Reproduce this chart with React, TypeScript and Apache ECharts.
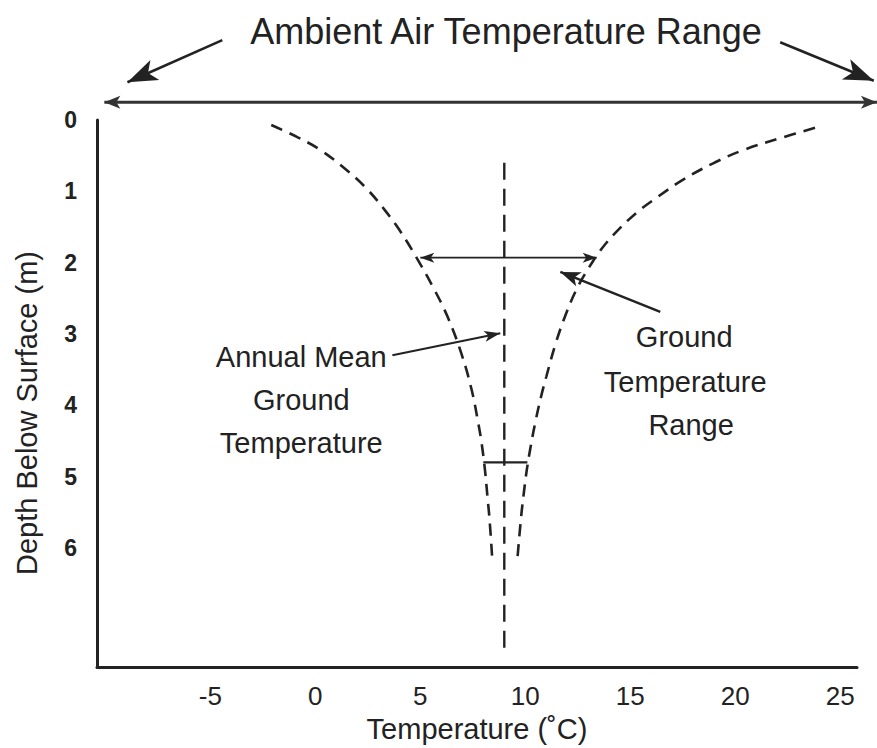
import React, { useEffect, useRef } from 'react';
import * as echarts from 'echarts';

// Tick labels
const xTickValues = [-5, 0, 5, 10, 15, 20, 25];
const yTickValues = [0, 1, 2, 3, 4, 5, 6];

// Axis extents (temperature °C, depth m)
const tempMin = -10.4;
const tempMax = 25.8;
const depthMax = 7.67;

// Cold-season envelope [temperature, depth]
const coldEnvelope: [number, number][] = [
  [-2.1, 0.07], [-0.86, 0.24], [0.24, 0.42], [1.6, 0.73], [2.5, 0.98],
  [3.3, 1.26], [4.0, 1.54], [4.8, 1.92], [5.6, 2.34], [6.3, 2.76],
  [6.95, 3.27], [7.45, 3.79], [7.76, 4.25], [7.92, 4.53], [8.08, 4.91],
  [8.2, 5.29], [8.3, 5.61], [8.43, 6.17],
];

// Warm-season envelope [temperature, depth]
const warmEnvelope: [number, number][] = [
  [23.8, 0.11], [22.3, 0.24], [20.4, 0.42], [19.0, 0.6], [17.5, 0.84],
  [16.3, 1.08], [15.3, 1.3], [14.3, 1.58], [13.6, 1.82], [13.05, 2.06],
  [12.5, 2.34], [11.95, 2.71], [11.45, 3.13], [11.0, 3.6], [10.75, 3.88],
  [10.47, 4.25], [10.25, 4.59], [10.07, 4.91], [9.93, 5.23], [9.8, 5.57],
  [9.62, 6.17],
];

// Annual mean ground temperature line
const meanGroundTemp = 9;
const meanLineDepths = [0.6, 7.43];

// Small range bar near 4.8 m
const deepBar: [number, number][] = [[8.0, 4.8], [10.1, 4.8]];

// Annotation arrows [from, to] in data coordinates
const airRangeArrow: [number, number][] = [[-10.05, -0.25], [26.75, -0.25]];
const titleArrowLeft: [number, number][] = [[-4.43, -1.12], [-8.95, -0.53]];
const titleArrowRight: [number, number][] = [[22.14, -1.09], [26.6, -0.55]];
const groundRangeArrow: [number, number][] = [[5.0, 1.93], [13.4, 1.93]];
const meanPointer: [number, number][] = [[3.67, 3.3], [8.81, 2.99]];
const rangePointer: [number, number][] = [[16.43, 2.69], [11.67, 2.13]];

// Annotation texts anchored in data coordinates
const leftNote = ['Annual Mean', 'Ground', 'Temperature'];
const leftNoteAnchor: [number, number][] = [[-0.67, 3.32], [-0.67, 3.93], [-0.67, 4.53]];
const rightNote = ['Ground', 'Temperature', 'Range'];
const rightNoteAnchor: [number, number][] = [[17.57, 3.04], [17.62, 3.67], [17.9, 4.28]];

const FONT = '"Liberation Sans", Arial, Helvetica, sans-serif';
const INK = '#222';

export default function App() {
  const ref = useRef<HTMLDivElement>(null);

  useEffect(() => {
    const chart = echarts.init(ref.current!, null, { renderer: 'svg' });
    const option: any = {
      animation: false,
      backgroundColor: '#fff',
      grid: { left: 97, right: 20, top: 120, bottom: 81 },
      xAxis: {
        type: 'value',
        position: 'bottom',
        min: tempMin,
        max: tempMax,
        axisLine: { show: true, onZero: false, lineStyle: { color: INK, width: 3 } },
        axisTick: { show: false },
        splitLine: { show: false },
        axisLabel: {
          customValues: xTickValues,
          formatter: (v: number) => String(v),
          margin: 16,
          fontSize: 26,
          fontFamily: FONT,
          color: INK,
        },
      },
      yAxis: {
        type: 'value',
        position: 'left',
        inverse: true,
        min: 0,
        max: depthMax,
        axisLine: { show: true, onZero: false, lineStyle: { color: INK, width: 3 } },
        axisTick: { show: false },
        splitLine: { show: false },
        axisLabel: {
          customValues: yTickValues,
          formatter: (v: number) => String(v),
          margin: 20,
          fontSize: 23,
          fontWeight: 'bold',
          fontFamily: FONT,
          color: INK,
        },
      },
      series: [
        {
          type: 'line',
          data: coldEnvelope,
          smooth: 0.4,
          symbol: 'none',
          clip: false,
          lineStyle: { color: INK, width: 2.6, type: [12, 8] },
        },
        {
          type: 'line',
          data: warmEnvelope,
          smooth: 0.4,
          symbol: 'none',
          clip: false,
          lineStyle: { color: INK, width: 2.6, type: [12, 8] },
        },
        {
          type: 'line',
          data: meanLineDepths.map((d) => [meanGroundTemp, d]),
          symbol: 'none',
          lineStyle: { color: INK, width: 2.4, type: [17, 9] },
        },
        {
          type: 'line',
          data: deepBar,
          symbol: 'none',
          lineStyle: { color: INK, width: 2.2 },
        },
      ],
    };
    chart.setOption(option);

    const px = (p: [number, number]) => chart.convertToPixel({ gridIndex: 0 }, p) as number[];

    const elements: any[] = [];
    const arrow = (
      seg: [number, number][],
      opts: { start?: boolean; end?: boolean; len: number; wid: number; lw: number; color?: string }
    ) => {
      const a = px(seg[0]);
      const b = px(seg[1]);
      const color = opts.color || INK;
      const dx = b[0] - a[0];
      const dy = b[1] - a[1];
      const L = Math.hypot(dx, dy);
      const ux = dx / L;
      const uy = dy / L;
      const nx = -uy;
      const ny = ux;
      elements.push({
        type: 'line',
        shape: { x1: a[0], y1: a[1], x2: b[0], y2: b[1] },
        style: { stroke: color, lineWidth: opts.lw },
        silent: true,
      });
      const head = (tip: number[], dirx: number, diry: number) => {
        const bx = tip[0] - dirx * opts.len;
        const by = tip[1] - diry * opts.len;
        elements.push({
          type: 'polygon',
          shape: {
            points: [
              [tip[0], tip[1]],
              [bx + nx * opts.wid / 2, by + ny * opts.wid / 2],
              [tip[0] - dirx * opts.len * 0.75, tip[1] - diry * opts.len * 0.75],
              [bx - nx * opts.wid / 2, by - ny * opts.wid / 2],
            ],
          },
          style: { fill: color },
          silent: true,
        });
      };
      if (opts.end) head(b, ux, uy);
      if (opts.start) head(a, -ux, -uy);
    };

    arrow(airRangeArrow, { start: true, end: true, len: 16, wid: 13, lw: 3, color: '#333' });
    arrow(titleArrowLeft, { end: true, len: 30, wid: 22, lw: 2.6 });
    arrow(titleArrowRight, { end: true, len: 30, wid: 22, lw: 2.6 });
    arrow(groundRangeArrow, { start: true, end: true, len: 14, wid: 10, lw: 1.8 });
    arrow(meanPointer, { end: true, len: 16, wid: 11, lw: 2 });
    arrow(rangePointer, { end: true, len: 20, wid: 15, lw: 2.4 });

    const noteText = (txt: string, at: [number, number]) => {
      const p = px(at);
      elements.push({
        type: 'text',
        x: p[0],
        y: p[1],
        silent: true,
        style: {
          text: txt,
          fontSize: 29,
          fontFamily: FONT,
          fill: INK,
          align: 'center',
          verticalAlign: 'middle',
        },
      });
    };
    leftNote.forEach((t, i) => noteText(t, leftNoteAnchor[i]));
    rightNote.forEach((t, i) => noteText(t, rightNoteAnchor[i]));

    // Title
    elements.push({
      type: 'text',
      x: 506,
      y: 31,
      silent: true,
      style: {
        text: 'Ambient Air Temperature Range',
        fontSize: 36,
        fontFamily: FONT,
        fill: INK,
        align: 'center',
        verticalAlign: 'middle',
      },
    });
    // X axis name
    elements.push({
      type: 'text',
      x: 477,
      y: 729,
      silent: true,
      style: {
        text: 'Temperature (\u02DAC)',
        fontSize: 29,
        fontFamily: FONT,
        fill: INK,
        align: 'center',
        verticalAlign: 'middle',
      },
    });
    // Y axis name
    elements.push({
      type: 'text',
      x: 27,
      y: 413,
      rotation: Math.PI / 2,
      silent: true,
      style: {
        text: 'Depth Below Surface (m)',
        fontSize: 29,
        fontFamily: FONT,
        fill: INK,
        align: 'center',
        verticalAlign: 'middle',
      },
    });

    chart.setOption({ graphic: { elements } });
    return () => chart.dispose();
  }, []);

  return (
    <div
      ref={ref}
      style={{ position: 'absolute', left: 0, top: 0, width: 877, height: 748 }}
    />
  );
}
